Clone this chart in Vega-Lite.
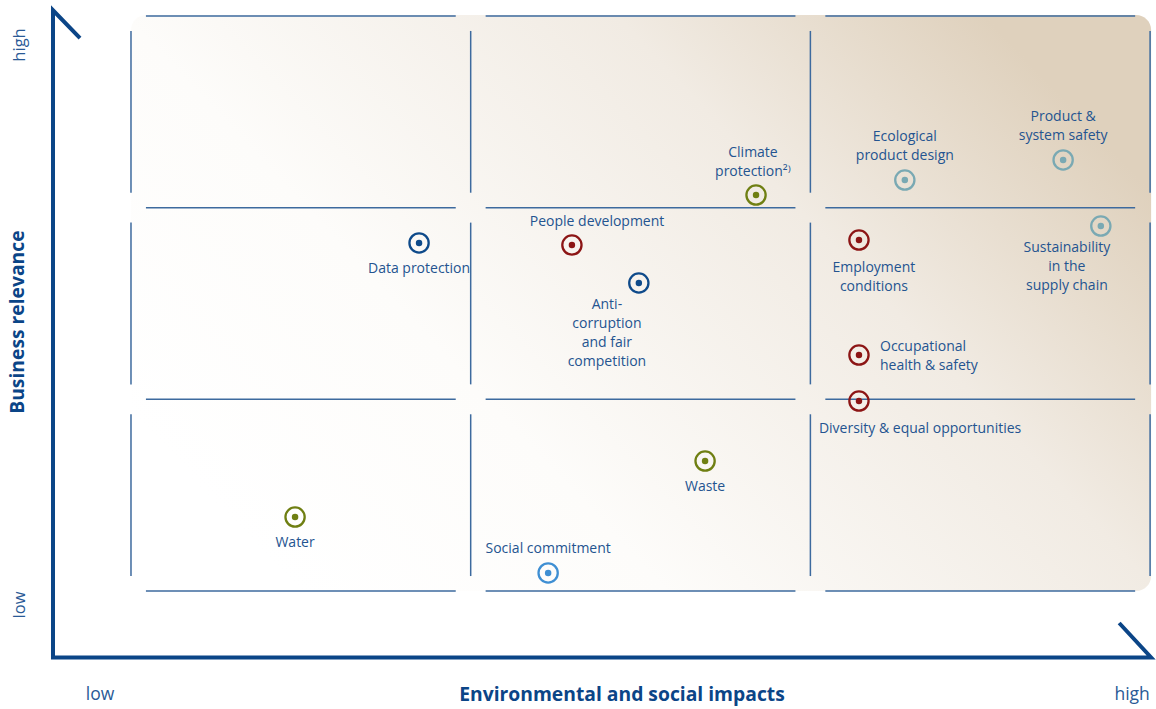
{
  "$schema": "https://vega.github.io/schema/vega-lite/v6.json",
  "width": 1156,
  "height": 709,
  "autosize": {"type": "none"},
  "padding": 0,
  "background": "#ffffff",
  "config": {"view": {"stroke": null}, "text": {"font": "Open Sans"}},
  "datasets": {
    "points": [
      {"name": "Climate protection", "group": "Environment", "x": 1.840, "y": 2.066},
      {"name": "Ecological product design", "group": "Product", "x": 2.278, "y": 2.144},
      {"name": "Product & system safety", "group": "Product", "x": 2.744, "y": 2.249},
      {"name": "Sustainability in the supply chain", "group": "Product", "x": 2.855, "y": 1.904},
      {"name": "Data protection", "group": "Governance", "x": 0.848, "y": 1.816},
      {"name": "People development", "group": "Employees", "x": 1.298, "y": 1.805},
      {"name": "Anti-corruption and fair competition", "group": "Governance", "x": 1.495, "y": 1.607},
      {"name": "Employment conditions", "group": "Employees", "x": 2.143, "y": 1.831},
      {"name": "Occupational health & safety", "group": "Employees", "x": 2.143, "y": 1.231},
      {"name": "Diversity & equal opportunities", "group": "Employees", "x": 2.143, "y": 0.991},
      {"name": "Waste", "group": "Environment", "x": 1.690, "y": 0.678},
      {"name": "Water", "group": "Environment", "x": 0.483, "y": 0.386},
      {"name": "Social commitment", "group": "Society", "x": 1.228, "y": 0.094}
    ],
    "labels": [
      {"name": "Climate protection", "label": "Climate\nprotection²⁾", "x": 1.831, "y": 2.285},
      {"name": "Ecological product design", "label": "Ecological\nproduct design", "x": 2.278, "y": 2.369},
      {"name": "Product & system safety", "label": "Product &\nsystem safety", "x": 2.744, "y": 2.473},
      {"name": "Sustainability in the supply chain", "label": "Sustainability\nin the\nsupply chain", "x": 2.755, "y": 1.790},
      {"name": "Data protection", "label": "Data protection", "x": 0.848, "y": 1.680},
      {"name": "People development", "label": "People development", "x": 1.372, "y": 1.925},
      {"name": "Anti-corruption and fair competition", "label": "Anti-\ncorruption\nand fair\ncompetition", "x": 1.401, "y": 1.492},
      {"name": "Employment conditions", "label": "Employment\nconditions", "x": 2.187, "y": 1.685},
      {"name": "Occupational health & safety", "label": "Occupational\nhealth & safety", "x": 2.205, "y": 1.273},
      {"name": "Diversity & equal opportunities", "label": "Diversity & equal opportunities", "x": 2.025, "y": 0.845},
      {"name": "Waste", "label": "Waste", "x": 1.690, "y": 0.543},
      {"name": "Water", "label": "Water", "x": 0.483, "y": 0.251},
      {"name": "Social commitment", "label": "Social commitment", "x": 1.228, "y": 0.219}
    ],
    "hlines": [
      {"x": 0.044, "x2": 0.956, "y": 0}, {"x": 1.044, "x2": 1.956, "y": 0}, {"x": 2.044, "x2": 2.956, "y": 0},
      {"x": 0.044, "x2": 0.956, "y": 1}, {"x": 1.044, "x2": 1.956, "y": 1}, {"x": 2.044, "x2": 2.956, "y": 1},
      {"x": 0.044, "x2": 0.956, "y": 2}, {"x": 1.044, "x2": 1.956, "y": 2}, {"x": 2.044, "x2": 2.956, "y": 2},
      {"x": 0.044, "x2": 0.956, "y": 3}, {"x": 1.044, "x2": 1.956, "y": 3}, {"x": 2.044, "x2": 2.956, "y": 3}
    ],
    "vlines": [
      {"x": 0, "y": 0.078, "y2": 0.922}, {"x": 0, "y": 1.078, "y2": 1.922}, {"x": 0, "y": 2.078, "y2": 2.922},
      {"x": 1, "y": 0.078, "y2": 0.922}, {"x": 1, "y": 1.078, "y2": 1.922}, {"x": 1, "y": 2.078, "y2": 2.922},
      {"x": 2, "y": 0.078, "y2": 0.922}, {"x": 2, "y": 1.078, "y2": 1.922}, {"x": 2, "y": 2.078, "y2": 2.922},
      {"x": 3, "y": 0.078, "y2": 0.922}, {"x": 3, "y": 1.078, "y2": 1.922}, {"x": 3, "y": 2.078, "y2": 2.922}
    ],
    "axisline": [
      {"o": 1, "x": -0.1501, "y": 2.885},
      {"o": 2, "x": -0.2296, "y": 3.030},
      {"o": 3, "x": -0.2296, "y": -0.3470},
      {"o": 4, "x": 3.003, "y": -0.3470},
      {"o": 5, "x": 2.909, "y": -0.167}
    ]
  },
  "encoding": {
    "x": {"field": "x", "type": "quantitative", "scale": {"domain": [-0.3856, 3.0174], "nice": false, "zero": false}, "axis": null},
    "y": {"field": "y", "type": "quantitative", "scale": {"domain": [-0.6157, 3.0835], "nice": false, "zero": false}, "axis": null}
  },
  "layer": [
    {
      "data": {"values": [{"x": 0, "x2": 3.003, "y": 0, "y2": 3.005}]},
      "mark": {
        "type": "rect",
        "cornerRadius": 15,
        "fill": {
          "gradient": "linear", "x1": 0.03, "y1": 0.75, "x2": 0.97, "y2": 0.25,
          "stops": [
            {"offset": 0, "color": "#ffffff"},
            {"offset": 0.3, "color": "#fdfcfa"},
            {"offset": 0.7, "color": "#f1ebe3"},
            {"offset": 1, "color": "#dfd1bd"}
          ]
        }
      },
      "encoding": {"x2": {"field": "x2"}, "y2": {"field": "y2"}}
    },
    {
      "data": {"name": "hlines"},
      "mark": {"type": "rule", "color": "#3d6a9e", "strokeWidth": 1.5},
      "encoding": {"x2": {"field": "x2"}}
    },
    {
      "data": {"name": "vlines"},
      "mark": {"type": "rule", "color": "#3d6a9e", "strokeWidth": 1.5},
      "encoding": {"y2": {"field": "y2"}}
    },
    {
      "data": {"name": "axisline"},
      "mark": {"type": "line", "color": "#0b4587", "strokeWidth": 4, "strokeJoin": "miter", "strokeCap": "butt"},
      "encoding": {"order": {"field": "o", "type": "quantitative"}}
    },
    {
      "data": {"name": "points"},
      "mark": {"type": "point", "shape": "circle", "filled": false, "size": 370, "strokeWidth": 2.3, "opacity": 1},
      "encoding": {
        "color": {"field": "group", "type": "nominal", "legend": null,
          "scale": {"domain": ["Environment", "Product", "Governance", "Employees", "Society"],
                    "range": ["#6f7f12", "#7aa9b3", "#0e4a8a", "#8c1515", "#3f8fd3"]}}
      }
    },
    {
      "data": {"name": "points"},
      "mark": {"type": "circle", "size": 42, "opacity": 1},
      "encoding": {
        "color": {"field": "group", "type": "nominal", "legend": null}
      }
    },
    {
      "data": {"name": "labels"},
      "transform": [{"filter": {"not": {"field": "name", "oneOf": ["Occupational health & safety", "Diversity & equal opportunities"]}}}],
      "mark": {"type": "text", "fontSize": 14, "lineHeight": 19, "lineBreak": "\n", "align": "center", "baseline": "middle", "color": "#245490"},
      "encoding": {"text": {"field": "label"}}
    },
    {
      "data": {"name": "labels"},
      "transform": [{"filter": {"field": "name", "oneOf": ["Occupational health & safety", "Diversity & equal opportunities"]}}],
      "mark": {"type": "text", "fontSize": 14, "lineHeight": 19, "lineBreak": "\n", "align": "left", "baseline": "middle", "color": "#245490"},
      "encoding": {"text": {"field": "label"}}
    },
    {
      "data": {"values": [{"t": "high", "x": -0.3268, "y": 2.849}, {"t": "low", "x": -0.3268, "y": -0.073}]},
      "mark": {"type": "text", "fontSize": 16.5, "angle": 270, "align": "center", "baseline": "middle", "color": "#2a5a96"},
      "encoding": {"text": {"field": "t"}}
    },
    {
      "data": {"values": [{"t": "low", "x": -0.0913, "y": -0.5426}, {"t": "high", "x": 2.947, "y": -0.5426}]},
      "mark": {"type": "text", "fontSize": 17.5, "align": "center", "baseline": "middle", "color": "#2a5a96"},
      "encoding": {"text": {"field": "t"}}
    },
    {
      "data": {"values": [{"t": "Environmental and social impacts", "x": 1.4454, "y": -0.5426}]},
      "mark": {"type": "text", "fontSize": 19.3, "fontWeight": "bold", "align": "center", "baseline": "middle", "color": "#0b4587"},
      "encoding": {"text": {"field": "t"}}
    },
    {
      "data": {"values": [{"t": "Business relevance", "x": -0.3327, "y": 1.403}]},
      "mark": {"type": "text", "fontSize": 19.3, "fontWeight": "bold", "angle": 270, "align": "center", "baseline": "middle", "color": "#0b4587"},
      "encoding": {"text": {"field": "t"}}
    }
  ]
}
